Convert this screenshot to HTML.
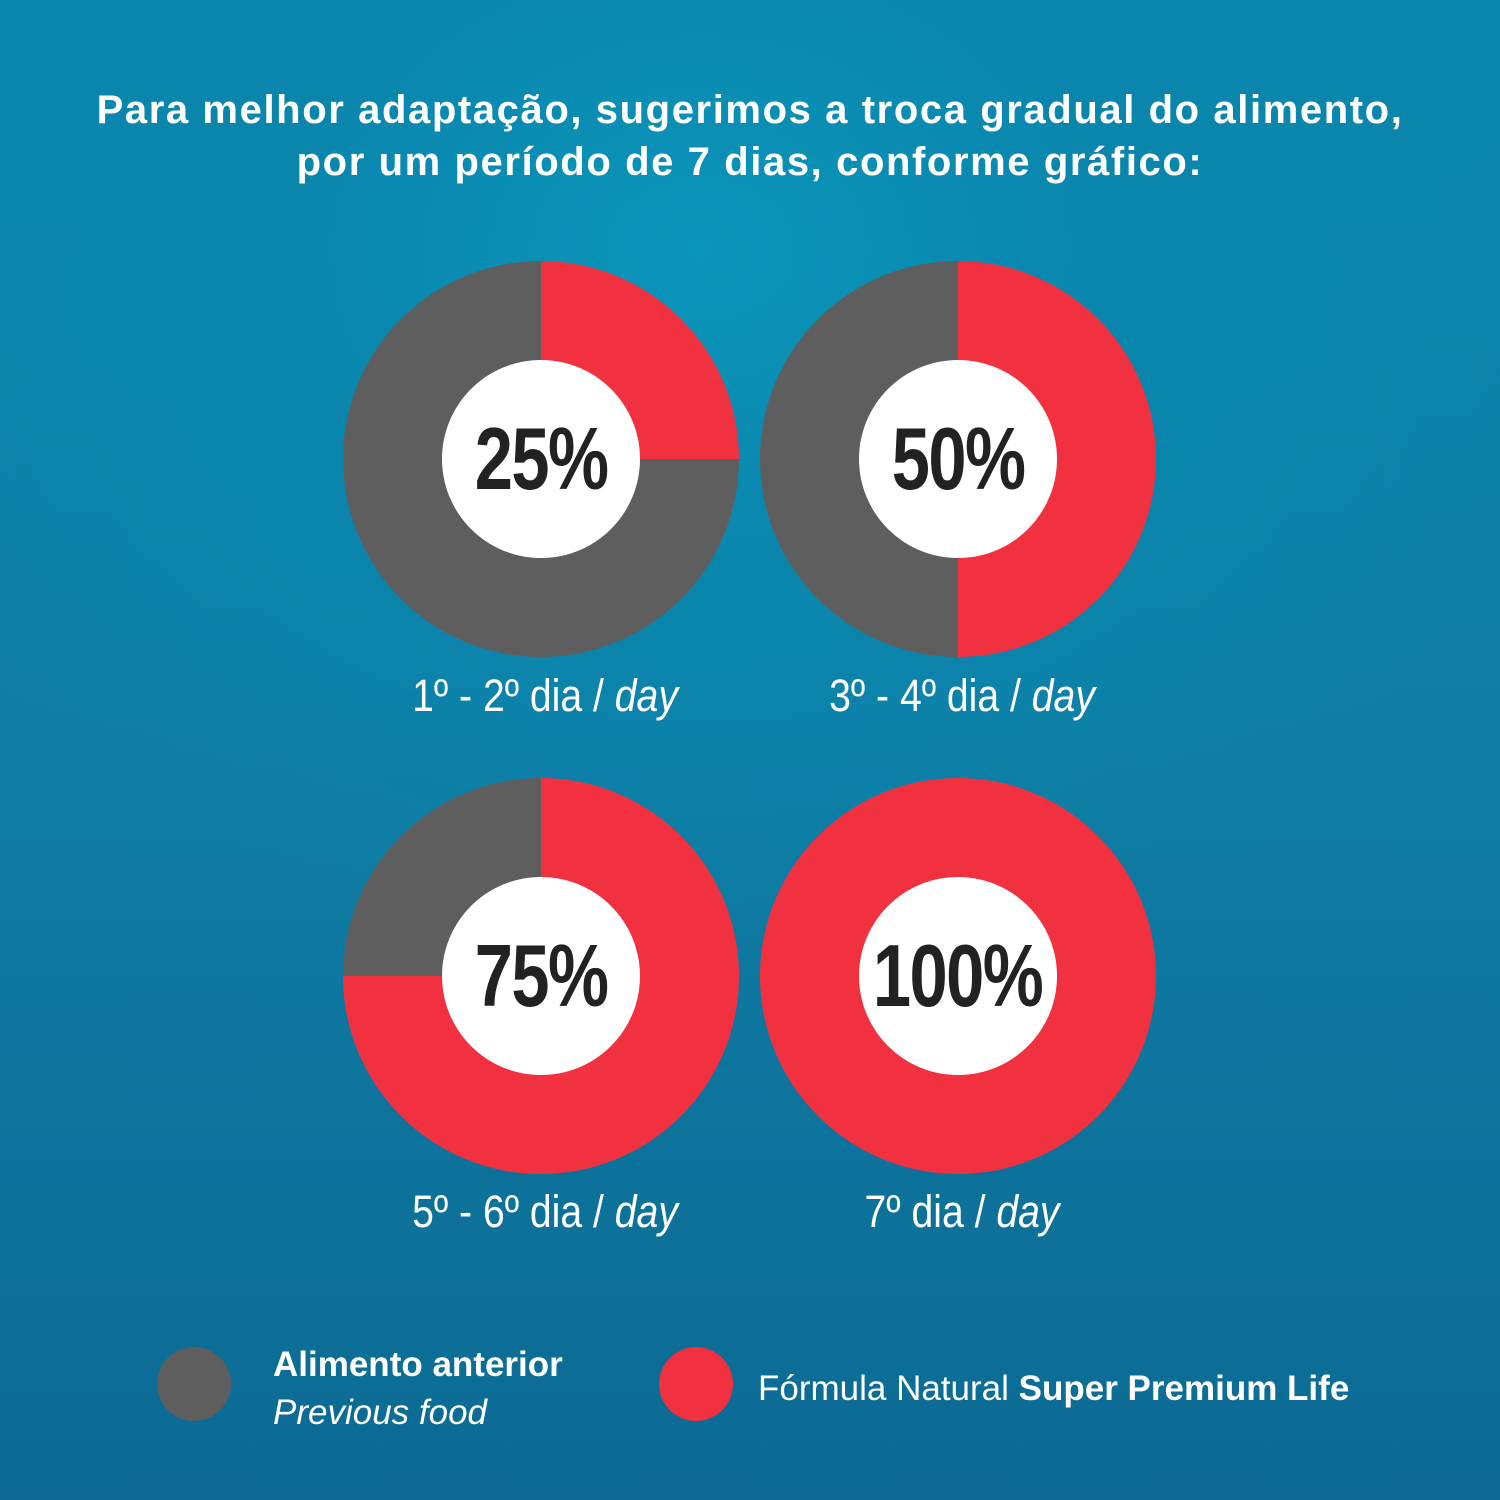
<!DOCTYPE html>
<html><head><meta charset="utf-8"><style>
html,body{margin:0;padding:0}
body{width:1500px;height:1500px;position:relative;overflow:hidden;
background:radial-gradient(ellipse 900px 700px at 700px 250px,#0a95ba 0%,#0a86ad 45%,transparent 100%),linear-gradient(180deg,#0b86ad 0%,#0f7fa6 45%,#0c6a94 100%);
font-family:"Liberation Sans",sans-serif;color:#fff}
.title{position:absolute;left:0;width:1500px;top:84px;text-align:center;font-weight:bold;font-size:40px;line-height:52px;letter-spacing:1.6px}
.d{position:absolute;width:396px;height:396px;border-radius:50%}
.d .in{position:absolute;left:99px;top:99px;width:198px;height:198px;border-radius:50%;background:#fff;display:flex;align-items:center;justify-content:center}
.d .in span{font-weight:bold;font-size:88px;color:#222;letter-spacing:-2px;transform:scaleX(0.78);display:inline-block;white-space:nowrap}
.lab{position:absolute;width:500px;text-align:center;font-size:45px;transform:scaleX(0.87)}
.lab i{font-style:italic}
.dot{position:absolute;width:74px;height:74px;border-radius:50%}
.lg{position:absolute;font-size:35px;white-space:nowrap}
</style></head><body>
<div class="title">Para melhor adaptação, sugerimos a troca gradual do alimento,<br>por um período de 7 dias, conforme gráfico:</div>

<div class="d" style="left:343px;top:261px;background:conic-gradient(#f23140 0 25%,#5e5e5e 25% 100%)"><div class="in"><span>25%</span></div></div>
<div class="d" style="left:760px;top:261px;background:conic-gradient(#f23140 0 50%,#5e5e5e 50% 100%)"><div class="in"><span>50%</span></div></div>
<div class="d" style="left:343px;top:778px;background:conic-gradient(#f23140 0 75%,#5e5e5e 75% 100%)"><div class="in"><span>75%</span></div></div>
<div class="d" style="left:760px;top:778px;background:#f23140"><div class="in"><span>100%</span></div></div>

<div class="lab" style="left:295px;top:670px">1º - 2º dia / <i>day</i></div>
<div class="lab" style="left:712px;top:670px">3º - 4º dia / <i>day</i></div>
<div class="lab" style="left:295px;top:1186px">5º - 6º dia / <i>day</i></div>
<div class="lab" style="left:712px;top:1186px">7º dia / <i>day</i></div>

<div class="dot" style="left:157px;top:1347px;background:#5e5e5e"></div>
<div class="lg" style="left:273px;top:1345px;font-weight:bold">Alimento anterior</div>
<div class="lg" style="left:273px;top:1393px;font-style:italic">Previous food</div>
<div class="dot" style="left:659px;top:1347px;background:#f23140"></div>
<div class="lg" style="left:758px;top:1369px">Fórmula Natural <b>Super Premium Life</b></div>
</body></html>
